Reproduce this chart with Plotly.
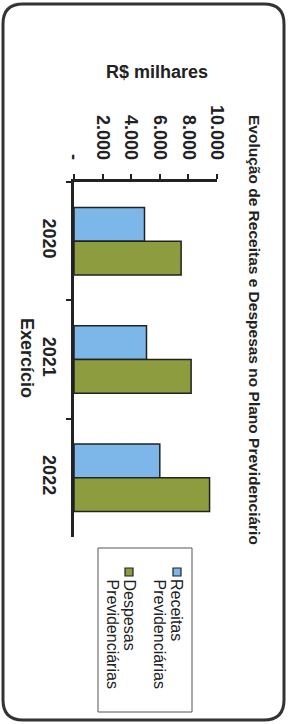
import plotly.graph_objects as go

# ---- data ----
years = ["2020", "2021", "2022"]
receitas = [4930, 5070, 6000]
despesas = [7490, 8190, 9480]
series_names = ["Receitas Previdenciárias", "Despesas Previdenciárias"]
value_ticks = [0, 2000, 4000, 6000, 8000, 10000]
value_tick_labels = ["-", "2.000", "4.000", "6.000", "8.000", "10.000"]
title_text = "Evolução de Receitas e Despesas no Plano Previdenciário"
value_axis_title = "R$ milhares"
category_axis_title = "Exercício"

# ---- layout constants ----
W, H = 289, 724
L, R, T, B = 74, 72, 182, 187
PW, PH = W - L - R, H - T - B
FONT = "Liberation Sans, Arial, sans-serif"
TXT = "#222222"
BLUE = "#7db6e8"
GREEN = "#8c9c3e"
EDGE = "#222222"


def px(x):
    return (x - L) / PW


def py(y):
    return (H - B - y) / PH


fig = go.Figure()
fig.add_trace(go.Bar(y=years, x=receitas, orientation="h", name=series_names[0],
                     marker=dict(color=BLUE, line=dict(color=EDGE, width=1.5))))
fig.add_trace(go.Bar(y=years, x=despesas, orientation="h", name=series_names[1],
                     marker=dict(color=GREEN, line=dict(color=EDGE, width=1.5))))

fig.update_layout(
    width=W, height=H,
    margin=dict(l=L, r=R, t=T, b=B, pad=0),
    paper_bgcolor="white", plot_bgcolor="white",
    barmode="group", bargap=0.43, bargroupgap=0,
    showlegend=False,
    font=dict(family=FONT, color=TXT),
)
fig.update_xaxes(
    side="top", range=[0, 10000], tickvals=value_ticks, ticktext=value_tick_labels,
    tickangle=90, tickfont=dict(size=18, family=FONT, color=TXT, weight="bold"),
    ticks="outside", ticklen=5, tickwidth=2, tickcolor=EDGE,
    showline=True, linecolor=EDGE, linewidth=2.5, showgrid=False, zeroline=False,
    ticklabelstandoff=8,
)
fig.update_yaxes(
    autorange="reversed", tickangle=90,
    tickfont=dict(size=18, family=FONT, color=TXT, weight="bold"),
    ticks="outside", ticklen=5, tickwidth=2, tickcolor=EDGE, tickson="boundaries",
    showline=True, linecolor=EDGE, linewidth=2.5, showgrid=False, zeroline=False,
    ticklabelstandoff=7,
)

annotations = []
# chart title (rotated)
annotations.append(dict(text="<b>" + title_text + "</b>", x=px(255), y=py(330),
                        xref="paper", yref="paper", textangle=90, showarrow=False,
                        font=dict(size=15.5, family=FONT, color=TXT),
                        xanchor="center", yanchor="middle"))
# value axis title
annotations.append(dict(text="<b>" + value_axis_title + "</b>", x=px(157), y=py(72),
                        xref="paper", yref="paper", showarrow=False,
                        font=dict(size=18, family=FONT, color=TXT),
                        xanchor="center", yanchor="middle"))
# category axis title
annotations.append(dict(text="<b>" + category_axis_title + "</b>", x=px(27), y=py(358),
                        xref="paper", yref="paper", textangle=90, showarrow=False,
                        font=dict(size=18, family=FONT, color=TXT),
                        xanchor="center", yanchor="middle"))

shapes = []
# card border (rounded rectangle)
x0, x1, y0, y1, rr = 3, 284, 4, 720, 20


def P(x, y):
    return f"{px(x):.5f},{py(y):.5f}"


path = (f"M {P(x0 + rr, y0)} L {P(x1 - rr, y0)} Q {P(x1, y0)} {P(x1, y0 + rr)} "
        f"L {P(x1, y1 - rr)} Q {P(x1, y1)} {P(x1 - rr, y1)} "
        f"L {P(x0 + rr, y1)} Q {P(x0, y1)} {P(x0, y1 - rr)} "
        f"L {P(x0, y0 + rr)} Q {P(x0, y0)} {P(x0 + rr, y0)} Z")
shapes.append(dict(type="path", path=path, xref="paper", yref="paper",
                   line=dict(color="#333333", width=3)))

# legend box
shapes.append(dict(type="rect", xref="paper", yref="paper",
                   x0=px(98), x1=px(192), y0=py(548), y1=py(712),
                   line=dict(color="#555555", width=1), fillcolor="rgba(0,0,0,0)"))

legend_cols = [(177, 159, BLUE), (129, 112, GREEN)]
for name, (cx1, cx2, col) in zip(series_names, legend_cols):
    first, second = name.split(" ")
    shapes.append(dict(type="rect", xref="paper", yref="paper",
                       x0=px(cx1 - 4), x1=px(cx1 + 4), y0=py(568), y1=py(576),
                       line=dict(color=EDGE, width=1.2), fillcolor=col))
    annotations.append(dict(text=first, x=px(cx1), y=py(577), xref="paper", yref="paper",
                            textangle=90, showarrow=False, xanchor="center", yanchor="top",
                            font=dict(size=16, family=FONT, color=TXT)))
    annotations.append(dict(text=second, x=px(cx2), y=py(577), xref="paper", yref="paper",
                            textangle=90, showarrow=False, xanchor="center", yanchor="top",
                            font=dict(size=16, family=FONT, color=TXT)))

fig.update_layout(annotations=annotations, shapes=shapes)
fig.write_html(
    "out.html",
    config={"displayModeBar": False},
    post_script="document.body.style.margin='0';document.body.style.padding='0';"
                "document.documentElement.style.overflow='hidden';",
)
